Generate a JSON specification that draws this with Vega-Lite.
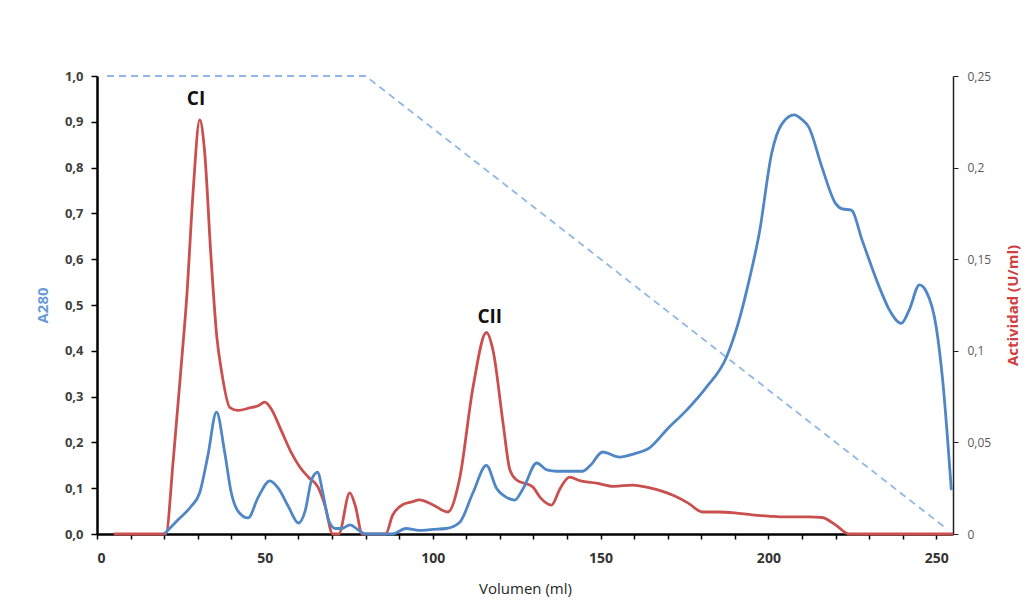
{
  "$schema": "https://vega.github.io/schema/vega-lite/v6.json",
  "autosize": {"type": "none"},
  "padding": {"left": 97, "top": 76, "right": 79, "bottom": 78},
  "width": 856,
  "height": 458,
  "background": "white",
  "config": {"view": {"stroke": null}, "font": "Open Sans"},
  "datasets": {
    "a280": [
      {"vol": 20, "a": 0}, {"vol": 24, "a": 0.03}, {"vol": 28, "a": 0.06}, {"vol": 30.6, "a": 0.09}, {"vol": 33, "a": 0.17},
      {"vol": 35.6, "a": 0.266}, {"vol": 38, "a": 0.18}, {"vol": 40, "a": 0.09}, {"vol": 42, "a": 0.05}, {"vol": 45, "a": 0.035},
      {"vol": 48, "a": 0.08}, {"vol": 51.5, "a": 0.116}, {"vol": 54, "a": 0.1}, {"vol": 57, "a": 0.06}, {"vol": 60, "a": 0.024},
      {"vol": 62, "a": 0.05}, {"vol": 64, "a": 0.12}, {"vol": 65.8, "a": 0.135}, {"vol": 67, "a": 0.1}, {"vol": 69, "a": 0.03},
      {"vol": 71, "a": 0.012}, {"vol": 73, "a": 0.012}, {"vol": 75.3, "a": 0.02}, {"vol": 78, "a": 0.008}, {"vol": 80, "a": 0},
      {"vol": 88, "a": 0}, {"vol": 92, "a": 0.012}, {"vol": 96, "a": 0.008}, {"vol": 100, "a": 0.01}, {"vol": 104, "a": 0.012},
      {"vol": 108, "a": 0.025}, {"vol": 112, "a": 0.09}, {"vol": 116, "a": 0.15}, {"vol": 119, "a": 0.1}, {"vol": 122, "a": 0.08},
      {"vol": 124.4, "a": 0.074}, {"vol": 127, "a": 0.1}, {"vol": 131, "a": 0.155}, {"vol": 134, "a": 0.14}, {"vol": 137, "a": 0.137},
      {"vol": 144.6, "a": 0.137}, {"vol": 147, "a": 0.15}, {"vol": 150.6, "a": 0.179}, {"vol": 155.6, "a": 0.168}, {"vol": 160, "a": 0.175},
      {"vol": 164.6, "a": 0.188}, {"vol": 170, "a": 0.23}, {"vol": 175.6, "a": 0.27}, {"vol": 181.5, "a": 0.32}, {"vol": 187.5, "a": 0.386},
      {"vol": 191, "a": 0.46}, {"vol": 194.3, "a": 0.555}, {"vol": 197.3, "a": 0.657}, {"vol": 201, "a": 0.832}, {"vol": 204, "a": 0.895},
      {"vol": 207.7, "a": 0.915}, {"vol": 210, "a": 0.905}, {"vol": 212, "a": 0.889}, {"vol": 216, "a": 0.8}, {"vol": 220, "a": 0.722},
      {"vol": 222, "a": 0.71}, {"vol": 224.7, "a": 0.707}, {"vol": 228, "a": 0.64}, {"vol": 233, "a": 0.54}, {"vol": 236, "a": 0.49},
      {"vol": 239.6, "a": 0.46}, {"vol": 242, "a": 0.49}, {"vol": 245, "a": 0.544}, {"vol": 247, "a": 0.53}, {"vol": 250, "a": 0.452},
      {"vol": 252, "a": 0.33}, {"vol": 254.5, "a": 0.096}
    ],
    "act": [
      {"vol": 5, "u": 0}, {"vol": 20.5, "u": 0}, {"vol": 22.7, "u": 0.04}, {"vol": 25, "u": 0.09}, {"vol": 26.8, "u": 0.131}, {"vol": 28.6, "u": 0.186},
      {"vol": 30.6, "u": 0.226}, {"vol": 32, "u": 0.21}, {"vol": 34, "u": 0.15}, {"vol": 35.7, "u": 0.1075}, {"vol": 37, "u": 0.09}, {"vol": 39.6, "u": 0.069},
      {"vol": 42, "u": 0.0675}, {"vol": 45.5, "u": 0.0688}, {"vol": 48, "u": 0.07}, {"vol": 50, "u": 0.072}, {"vol": 52, "u": 0.068},
      {"vol": 55, "u": 0.056}, {"vol": 58, "u": 0.044}, {"vol": 60.4, "u": 0.0366}, {"vol": 63, "u": 0.031}, {"vol": 65.8, "u": 0.0257},
      {"vol": 68, "u": 0.015}, {"vol": 70.2, "u": 0}, {"vol": 72, "u": 0}, {"vol": 75.3, "u": 0.0224}, {"vol": 77, "u": 0.015},
      {"vol": 79, "u": 0}, {"vol": 86, "u": 0}, {"vol": 88, "u": 0.01}, {"vol": 91, "u": 0.016}, {"vol": 93.8, "u": 0.0175},
      {"vol": 96, "u": 0.0186}, {"vol": 100, "u": 0.016}, {"vol": 104.5, "u": 0.012}, {"vol": 108, "u": 0.03}, {"vol": 112, "u": 0.08},
      {"vol": 116, "u": 0.11}, {"vol": 118, "u": 0.1}, {"vol": 121, "u": 0.06}, {"vol": 123, "u": 0.035}, {"vol": 125, "u": 0.0295},
      {"vol": 129.8, "u": 0.0257}, {"vol": 132, "u": 0.02}, {"vol": 135.4, "u": 0.0158}, {"vol": 138, "u": 0.025}, {"vol": 140.8, "u": 0.031},
      {"vol": 144, "u": 0.029}, {"vol": 148.8, "u": 0.0278}, {"vol": 154, "u": 0.026}, {"vol": 159.5, "u": 0.0267}, {"vol": 165, "u": 0.025},
      {"vol": 171.4, "u": 0.0213}, {"vol": 176, "u": 0.017}, {"vol": 180.4, "u": 0.012}, {"vol": 185, "u": 0.012}, {"vol": 190, "u": 0.0115},
      {"vol": 195.2, "u": 0.0104}, {"vol": 200, "u": 0.0098}, {"vol": 205, "u": 0.0093}, {"vol": 212, "u": 0.0093}, {"vol": 216, "u": 0.009},
      {"vol": 220, "u": 0.005}, {"vol": 224, "u": 0}, {"vol": 255, "u": 0}
    ],
    "grad": [
      {"vol": 3, "g": 1}, {"vol": 80, "g": 1}, {"vol": 253, "g": 0.012}
    ],
    "labels": [
      {"vol": 29.5, "a": 0.95, "t": "CI"}, {"vol": 117, "a": 0.474, "t": "CII"}
    ]
  },
  "encoding": {
    "x": {
      "field": "vol", "type": "quantitative", "scale": {"domain": [0, 255], "nice": false},
      "axis": {
        "title": "Volumen (ml)", "titleFontSize": 15, "titleFontWeight": "normal", "titleColor": "#262626", "titlePadding": 16,
        "values": [0, 10, 20, 30, 40, 50, 60, 70, 80, 90, 100, 110, 120, 130, 140, 150, 160, 170, 180, 190, 200, 210, 220, 230, 240, 250],
        "labelExpr": "datum.value % 50 === 0 ? datum.label : ''",
        "labelOverlap": false,
        "labelFontWeight": "bold", "labelFontSize": 14, "labelColor": "#333333", "labelPadding": 12,
        "grid": false, "domainColor": "#000000", "domainWidth": 2.5,
        "tickColor": "#000000", "tickWidth": 1.5, "tickSize": 5
      }
    }
  },
  "layer": [
    {
      "data": {"name": "act"},
      "mark": {"type": "line", "interpolate": "monotone", "color": "#c9504f", "strokeWidth": 2.8},
      "encoding": {
        "y": {
          "field": "u", "type": "quantitative",
          "scale": {"domain": [0, 0.25], "nice": false},
          "axis": {
            "orient": "right", "title": "Actividad (U/ml)", "titleColor": "#d0403f", "titleFontWeight": "bold", "titleFontSize": 15,
            "titleAngle": 270, "titlePadding": 30,
            "values": [0, 0.05, 0.1, 0.15, 0.2, 0.25],
            "labelExpr": "replace(format(datum.value, '~g'), '.', ',')",
            "labelOverlap": false,
            "labelColor": "#595959", "labelFontSize": 12, "labelPadding": 9,
            "grid": false, "domainColor": "#222222", "domainWidth": 1.5,
            "tickColor": "#222222", "tickWidth": 1, "tickSize": 5
          }
        }
      }
    },
    {
      "layer": [
        {
          "data": {"name": "grad"},
          "mark": {"type": "line", "color": "#8fb8e6", "strokeWidth": 1.8, "strokeDash": [7, 5]},
          "encoding": {
            "y": {"field": "g", "type": "quantitative", "scale": {"domain": [0, 1], "nice": false}}
          }
        },
        {
          "data": {"name": "a280"},
          "mark": {"type": "line", "interpolate": "monotone", "color": "#4f86c6", "strokeWidth": 2.8},
          "encoding": {
            "y": {
              "field": "a", "type": "quantitative", "scale": {"domain": [0, 1], "nice": false},
              "axis": {
                "orient": "left", "title": "A280", "titleColor": "#6a9bd8", "titleFontWeight": "bold", "titleFontSize": 15, "titlePadding": 14,
                "values": [0, 0.1, 0.2, 0.3, 0.4, 0.5, 0.6, 0.7, 0.8, 0.9, 1],
                "labelExpr": "replace(format(datum.value, '.1f'), '.', ',')",
                "labelOverlap": false,
                "labelFontWeight": "bold", "labelFontSize": 13, "labelColor": "#404040", "labelPadding": 8,
                "grid": false, "domainColor": "#000000", "domainWidth": 2.5,
                "tickColor": "#000000", "tickWidth": 1.5, "tickSize": 6
              }
            }
          }
        },
        {
          "data": {"name": "labels"},
          "mark": {"type": "text", "fontSize": 19, "fontWeight": "bold", "color": "#111111"},
          "encoding": {
            "y": {"field": "a", "type": "quantitative", "scale": {"domain": [0, 1], "nice": false}},
            "text": {"field": "t"}
          }
        }
      ]
    }
  ],
  "resolve": {"scale": {"y": "independent"}}
}
